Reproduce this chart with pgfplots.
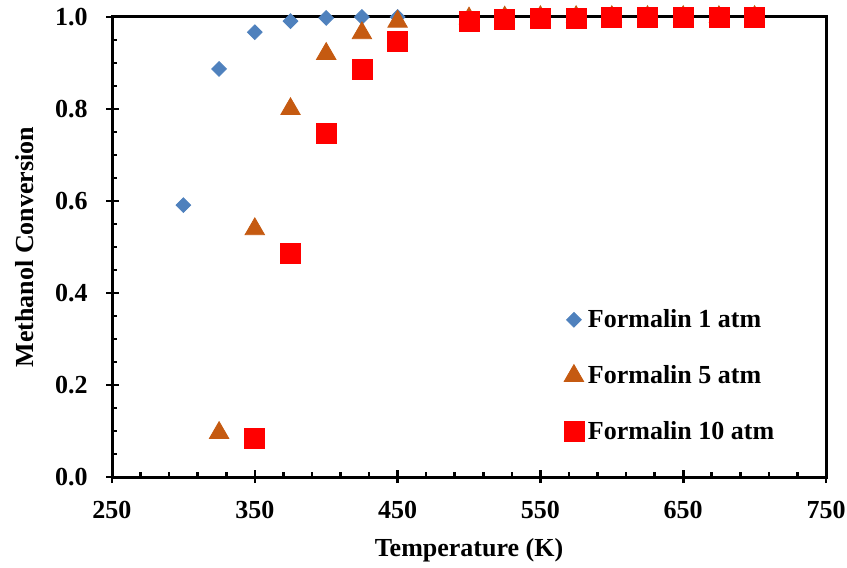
\documentclass[border=0pt]{standalone}
\usepackage{fontspec}
\setmainfont{Liberation Serif}
\usepackage{pgfplots}
\pgfplotsset{compat=1.18}
\definecolor{cblue}{HTML}{4F81BD}
\definecolor{corange}{HTML}{C55A11}
\definecolor{cred}{HTML}{FF0000}
\begin{document}
\begin{tikzpicture}
\begin{axis}[
  name=ax,
  scale only axis,
  width=357pt, height=230pt,
  xmin=250, xmax=750, ymin=0, ymax=1,
  xtick={250,350,...,750},
  ytick={0,0.2,...,1.0},
  minor x tick num=4,
  minor y tick num=3,
  tick pos=left,
  tick align=inside,
  major tick length=3.5pt,
  minor tick length=2.5pt,
  extra x ticks={250,350,450,550,650,750},
  extra x tick labels={},
  extra y ticks={0,0.2,0.4,0.6,0.8,1.0},
  extra y tick labels={},
  extra tick style={tick align=outside, major tick length=3pt},
  axis line style={line width=1.5pt},
  every tick/.style={line width=1.3pt, black},
  /pgf/number format/assume math mode=true,
  yticklabel={\pgfmathprintnumber[fixed,fixed zerofill,precision=1]{\tick}\hspace*{11pt}},
  tick label style={font=\bfseries\fontsize{13}{15}\selectfont, inner sep=1pt},
  every x tick label/.append style={anchor=center, yshift=-16.5pt},
  every y tick label/.append style={anchor=east},
  xlabel={Temperature (K)},
  ylabel={Methanol Conversion},
  every axis x label/.style={at={(axis description cs:0.5,-0.1587)}, anchor=center, font=\bfseries\fontsize{13}{15}\selectfont},
  every axis y label/.style={at={(axis description cs:-0.1218,0.5)}, anchor=center, rotate=90, font=\bfseries\fontsize{13}{15}\selectfont},
  legend style={draw=none, fill=none, at={(0.783,0.22)}, anchor=center,
    font=\bfseries\fontsize{13}{15}\selectfont, row sep=13.5pt},
  legend cell align=left,
]
\addplot[only marks, mark=square*, mark size=2.6pt, color=cblue, mark options={fill=cblue, draw=cblue, rotate=45}] coordinates {
(300,0.591) (325,0.887) (350,0.967) (375,0.991) (400,0.998) (425,1.0) (450,1.0)
(500,1.0) (525,1.0) (550,1.0) (575,1.0) (600,1.0) (625,1.0) (650,1.0) (675,1.0) (700,1.0)
};
\addlegendentry{Formalin 1 atm}
\addplot[only marks, mark=triangle*, mark size=5.6pt, color=corange, mark options={fill=corange, draw=corange}] coordinates {
(325,0.096) (350,0.539) (375,0.800) (400,0.920) (425,0.965) (450,0.990)
(500,0.997) (525,0.999) (550,1.0) (575,1.0) (600,1.0) (625,1.0) (650,1.0) (675,1.0) (700,1.0)
};
\addlegendentry{Formalin 5 atm}
\addplot[only marks, mark=square*, mark size=5pt, color=cred, mark options={fill=cred, draw=cred}] coordinates {
(350,0.085) (375,0.486) (400,0.748) (425,0.885) (450,0.948)
(500,0.990) (525,0.994) (550,0.997) (575,0.998) (600,0.999) (625,0.999) (650,1.0) (675,1.0) (700,1.0)
};
\addlegendentry{Formalin 10 atm}
\end{axis}
\pgfresetboundingbox
\path ([shift={(-56pt,-45pt)}]ax.south west) rectangle ([shift={(10.5pt,8.5pt)}]ax.north east);
\end{tikzpicture}
\end{document}
